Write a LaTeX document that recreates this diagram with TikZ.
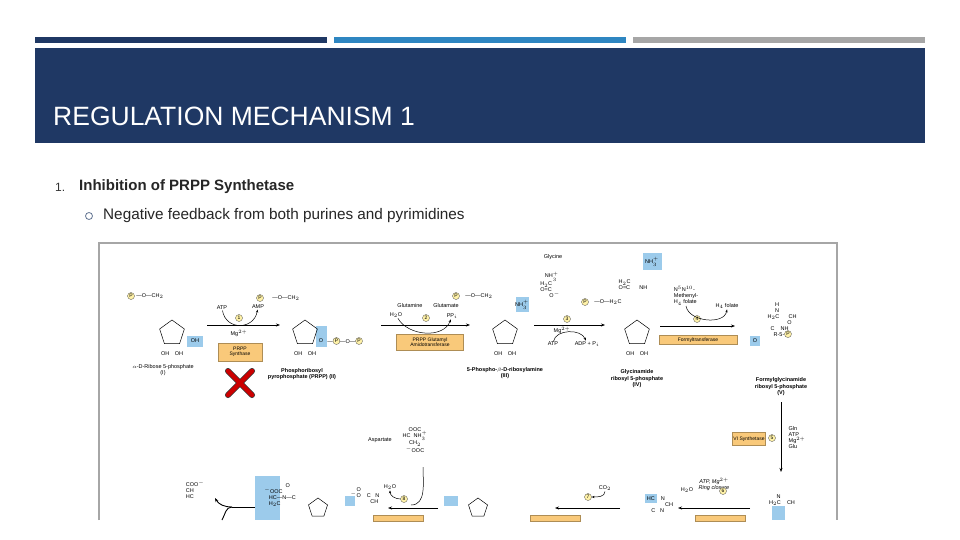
\documentclass[tikz,border=0pt]{standalone}
\usepackage{fontspec}
\setmainfont{Liberation Sans}
\usetikzlibrary{shapes.geometric,arrows.meta}
\definecolor{navy}{HTML}{1F3864}
\definecolor{midblue}{HTML}{2E86C1}
\definecolor{bargray}{HTML}{A6A6A6}
\definecolor{enz}{HTML}{F9C97A}
\definecolor{hl}{HTML}{9CCBEB}
\definecolor{pyel}{HTML}{FFF2A8}
\begin{document}
\begin{tikzpicture}[x=1pt,y=-1pt,
  lbl/.style={font=\fontsize{5.5}{6}\selectfont,inner sep=0.5pt,align=center},
  blbl/.style={font=\bfseries\fontsize{5.5}{6.5}\selectfont,inner sep=0.5pt,align=center},
  enzbox/.style={fill=enz,draw=enz!70!black,line width=0.3pt,font=\fontsize{5}{5.5}\selectfont,align=center,inner sep=1pt},
  num/.style={circle,fill=pyel,draw=black!70,line width=0.3pt,inner sep=0.3pt,minimum size=7pt,font=\fontsize{5}{5}\selectfont},
  ring/.style={regular polygon,regular polygon sides=5,draw,line width=0.5pt,minimum size=26pt,inner sep=0pt},
  rxn/.style={-{Stealth[length=4pt]},line width=0.9pt},
  side/.style={-{Stealth[length=3pt]},line width=0.5pt}]
\useasboundingbox (0,0) rectangle (960,540);
\fill[white] (0,0) rectangle (960,540);
% top bars
\fill[navy] (35,37) rectangle (327,43);
\fill[midblue] (334,37) rectangle (626,43);
\fill[bargray] (633,37) rectangle (925,43);
\fill[navy] (35,48) rectangle (925,143);
\node[anchor=west,text=white,font=\fontsize{26.5}{30}\selectfont,inner sep=0] (title) at (53,116) {REGULATION MECHANISM 1};
\node[anchor=west,font=\fontsize{12}{14}\selectfont,inner sep=0,text=black!80] (num1) at (55,187) {1.};
\node[anchor=west,font=\bfseries\fontsize{15}{18}\selectfont,inner sep=0,text=black!85] (h1) at (79,187) {Inhibition of PRPP Synthetase};
\node[circle,draw=navy!70,line width=0.8pt,minimum size=7pt,inner sep=0] (bul) at (89,216) {};
\node[anchor=west,font=\fontsize{15.3}{18}\selectfont,inner sep=0,text=black!85] (b1) at (103,216) {Negative feedback from both purines and pyrimidines};
% image frame
\draw[black!35,line width=1.5pt] (99,520) -- (99,243) -- (837,243) -- (837,520);
% ---- row 1 ----
% ribose I
\fill[hl] (187,336) rectangle (203,347);
\node[ring] (r1) at (172,333) {};
\node[num] (p1) at (131,296) {P};
\node[lbl] (o1) at (150,296) {---O---CH$_2$};
\node[lbl] at (172,354) {OH\quad OH};
\node[lbl] at (195,341) {OH};
\node[lbl] (lI) at (163,370) {$\alpha$-D-Ribose 5-phosphate\\(I)};
% arrow 1
\coordinate (a1s) at (207,325); \coordinate (a1e) at (280,325);
\draw[rxn] (a1s) -- (a1e);
\node[lbl] (atp1) at (222,308) {ATP};
\node[lbl] (amp1) at (258,307) {AMP};
\node[num] (n1) at (239,318) {1};
\draw[side] (atp1) to[out=-80,in=-100,looseness=1.5] (amp1);
\node[lbl] at (239,333) {Mg$^{2+}$};
\node[enzbox,minimum width=44pt,minimum height=18pt] (e1) at (240,352) {PRPP\\Synthase};
% red X
\draw[line width=6pt,line cap=round,draw=black!80] (228,371)--(252,395) (252,371)--(228,395);
\draw[red!80!black,line width=4.5pt,line cap=round] (228,371)--(252,395) (252,371)--(228,395);
% PRPP II
\fill[hl] (316,326) rectangle (327,347);
\node[ring] (r2) at (305,333) {};
\node[num] (p2) at (260,298) {P};
\node[lbl] at (286,298) {---O---CH$_2$};
\node[lbl] at (305,354) {OH\quad OH};
\node[lbl] at (321,341) {O};
\node[lbl] at (345,341) {---\tikz[baseline=-2pt]\node[num]{P};---O---\tikz[baseline=-2pt]\node[num]{P};};
\node[blbl] (lII) at (302,374) {Phosphoribosyl\\pyrophosphate (PRPP) (II)};
% arrow 2
\coordinate (a2s) at (381,325); \coordinate (a2e) at (470,325);
\draw[rxn] (a2s) -- (a2e);
\node[lbl] at (410,306) {Glutamine};
\node[lbl] at (446,306) {Glutamate};
\node[lbl] (h2o2) at (396,315) {H$_2$O};
\node[lbl] (ppi) at (452,316) {PP$_i$};
\node[num] (n2) at (426,318) {2};
\draw[side] (h2o2) to[out=-60,in=-110] (ppi);
\node[enzbox,minimum width=67pt,minimum height=16pt] (e2) at (430,342) {PRPP Glutamyl\\Amidotransferase};
% III
\node[num] (p3) at (456,296) {P};
\node[lbl] at (479,296) {---O---CH$_2$};
\fill[hl] (516,297) rectangle (529,312);
\node[lbl] at (522,305) {NH$_3^+$};
\node[ring] (r3) at (505,333) {};
\node[lbl] at (505,354) {OH\quad OH};
\node[blbl] (lIII) at (505,373) {5-Phospho-$\beta$-D-ribosylamine\\(III)};
% arrow 3
\coordinate (a3s) at (534,325); \coordinate (a3e) at (605,325);
\draw[rxn] (a3s) -- (a3e);
\node[lbl] at (553,257) {Glycine};
\node[lbl,align=left] at (550,285) {\ \ \ NH$_3^+$\\H$_2$C\\O=C\\\ \ \ \ \ \ O$^-$};
\node[num] (n3) at (567,319) {3};
\node[lbl] (atp3) at (553,344) {ATP};
\node[lbl] (adp3) at (587,344) {ADP + P$_i$};
\node[lbl] at (562,330) {Mg$^{2+}$};
\draw[side] (atp3) to[out=80,in=110] (adp3);
% IV
\fill[hl] (643,253) rectangle (662,270);
\node[lbl] at (652,262) {NH$_3^+$};
\node[lbl,align=left] at (633,285) {H$_2$C\\O=C\ \ \ \ \ \ NH};
\node[num] (p4) at (585,302) {P};
\node[lbl] at (608,302) {---O---H$_2$C};
\node[ring] (r4) at (637,333) {};
\node[lbl] at (637,354) {OH\quad OH};
\node[blbl] (lIV) at (637,379) {Glycinamide\\ribosyl 5-phosphate\\(IV)};
% arrow 4
\coordinate (a4s) at (660,326); \coordinate (a4e) at (735,326);
\draw[rxn] (a4s) -- (a4e);
\node[lbl,align=left] (fol) at (686,296) {N$^5$N$^{10}$-\\Methenyl-\\H$_4$ folate};
\node[lbl] (h4f) at (727,306) {H$_4$ folate};
\node[num] (n4) at (697,319) {4};
\draw[side] (fol.south) to[out=-80,in=-100] (h4f.south);
\node[enzbox,minimum width=78pt,minimum height=9pt] (e4) at (698,340) {Formyltransferase};
% V
\node[lbl,align=left] (sV) at (782,320) {\ \ \ \ \ H\\\ \ \ \ \ N\\H$_2$C\ \ \ \ \ \ CH\\\ \ \ \ \ \ \ \ \ \ \ \ \ O\\\ \ C\ \ \ \ NH\\\ \ \ \ R-5-\tikz[baseline=-2pt]\node[num]{P};};
\fill[hl] (750,336) rectangle (760,346);
\node[lbl] at (755,341) {O};
\node[blbl] (lV) at (781,387) {Formylglycinamide\\ribosyl 5-phosphate\\(V)};
% ---- vertical arrow 5 ----
\coordinate (a5s) at (781,402); \coordinate (a5e) at (781,472);
\draw[rxn,line width=0.6pt] (a5s) -- (a5e);
\node[enzbox,minimum width=32pt,minimum height=13pt] (e5) at (749,439) {VI Synthetase};
\node[num] (n5) at (772,438) {5};
\node[lbl,align=left] at (797,438) {Gln\\ATP\\Mg$^{2+}$\\Glu};
% ---- row 3 ----
\fill[hl] (772,506) rectangle (785,520);
\node[lbl,align=left] at (782,500) {\ \ \ \ \ N\\H$_2$C\ \ \ \ CH};
\coordinate (a6s) at (750,508); \coordinate (a6e) at (678,508);
\draw[rxn] (a6s) -- (a6e);
\node[lbl,align=center] at (714,484) {\itshape ATP, Mg$^{2+}$\\\itshape Ring closure};
\node[lbl] (h2o6) at (687,490) {H$_2$O};
\node[num] (n6) at (723,491) {6};
\node[enzbox,minimum width=50pt,minimum height=6pt] (e6) at (720,518) {};
\fill[hl] (645,494) rectangle (657,503);
\node[lbl,align=left] at (660,505) {HC\ \ \ \ N\\\ \ \ \ \ \ \ \ \ \ \ \ CH\\\ \ \ C\ \ \ N};
\coordinate (a7s) at (620,508); \coordinate (a7e) at (555,508);
\draw[rxn] (a7s) -- (a7e);
\node[num] (n7) at (588,497) {7};
\node[lbl] (co2) at (605,488) {CO$_2$};
\draw[side] (co2) to[out=-90,in=0] (n7);
\node[enzbox,minimum width=50pt,minimum height=6pt] (e7) at (555,518) {};
\fill[hl] (345,496) rectangle (355,506);
\node[lbl,align=left] at (365,496) {\ \ \ \ O\\$^-$O\ \ \ \ C\ \ \ N\\\ \ \ \ \ \ \ \ \ \ \ \ \ CH};
\node[ring,minimum size=20pt] (r7) at (478,508) {};
\node[lbl] at (452,501) {$^-$O};
\fill[hl] (444,496) rectangle (458,506);
\coordinate (a8s) at (438,508); \coordinate (a8e) at (388,508);
\draw[rxn] (a8s) -- (a8e);
\node[lbl,align=center] (asp) at (415,440) {OOC\\HC\ \ NH$_3^+$\\CH$_2$\\$^-$OOC};
\node[lbl] at (380,440) {Aspartate};
\draw[line width=0.5pt] (423,467) to[out=-90,in=0] (411,505);
\node[num] (n8) at (404,499) {8};
\node[lbl] (h2o8) at (390,487) {H$_2$O};
\draw[side] (n8) to[out=180,in=-90] (h2o8);
\node[enzbox,minimum width=50pt,minimum height=6pt] (e8) at (398,518) {};
\fill[hl] (255,476) rectangle (280,520);
\node[lbl,align=left] at (280,495) {\ \ \ \ \ \ \ \ \ \ \ \ \ \ O\\$^-$OOC\\\ \ \ HC---N---C\\\ \ \ H$_2$C};
\node[ring,minimum size=20pt] (r8) at (318,508) {};
% final split
\coordinate (a9s) at (255,507); \coordinate (a9e) at (215,498);
\draw[line width=0.9pt] (a9s) -- (232,507);
\draw[rxn] (232,507) to[out=180,in=-60] (a9e);
\draw[line width=0.9pt] (232,507) to[out=180,in=60] (222,520);
\node[lbl,align=left] (fum) at (195,490) {COO$^-$\\CH\\HC};
\end{tikzpicture}
\end{document}
